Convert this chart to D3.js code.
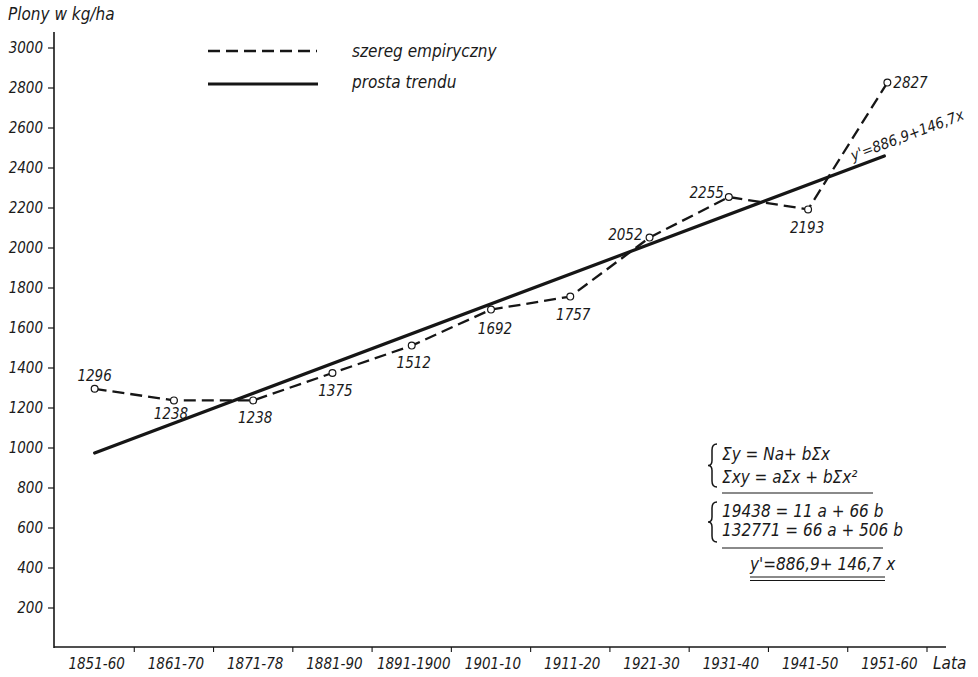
<!DOCTYPE html>
<html>
<head>
<meta charset="utf-8">
<script src="https://cdn.jsdelivr.net/npm/d3@7"></script>
<style>
  html, body { margin: 0; padding: 0; background: #fff; }
  svg { display: block; }
  text { font-family: "Liberation Sans Narrow", "DejaVu Sans Condensed", sans-serif; font-style: italic; fill: #1a1a1a; }
</style>
</head>
<body>
<div id="chart"></div>
<script>
(function () {
  // data
  const periods = ["1851-60", "1861-70", "1871-78", "1881-90", "1891-1900", "1901-10",
                   "1911-20", "1921-30", "1931-40", "1941-50", "1951-60"];
  const yields = [1296, 1238, 1238, 1375, 1512, 1692, 1757, 2052, 2255, 2193, 2827];
  const trendEnds = [975, 2460]; // straight trend line, first and last period
  const yTicks = [200, 400, 600, 800, 1000, 1200, 1400, 1600, 1800, 2000, 2200, 2400, 2600, 2800, 3000];
  // where each value label sits relative to its point: [dx, dy, anchor]
  const labelPos = [
    [0, -8, "middle"], [-3, 19, "middle"], [2, 23, "middle"], [3, 23, "middle"],
    [2, 22, "middle"], [4, 24, "middle"], [3, 23, "middle"], [-7, 2, "end"],
    [-5, 1, "end"], [-1, 24, "middle"], [6, 5, "start"]
  ];
  const formulaLines = [
    "Σy = Na+ bΣx",
    "Σxy = aΣx + bΣx²",
    "19438 = 11 a + 66 b",
    "132771 = 66 a + 506 b",
    "y'=886,9+ 146,7 x"
  ];

  const W = 978, H = 677;
  const svg = d3.select("#chart").append("svg")
    .attr("width", W).attr("height", H);

  const x = d3.scaleBand().domain(periods).range([55, 927]);
  const cx = (p) => x(p) + x.bandwidth() / 2;
  const y = d3.scaleLinear().domain([0, 3000]).range([648, 48]);

  const ink = "#161616";

  // y axis
  svg.append("line").attr("x1", 54).attr("x2", 54).attr("y1", 32).attr("y2", 648)
    .attr("stroke", ink).attr("stroke-width", 1.6);
  const yAxis = svg.append("g");
  yTicks.forEach((t) => {
    yAxis.append("line").attr("x1", 48).attr("x2", 54).attr("y1", y(t)).attr("y2", y(t))
      .attr("stroke", ink).attr("stroke-width", 1.2);
    yAxis.append("text").attr("x", 43).attr("y", y(t) + 5)
      .attr("text-anchor", "end").attr("font-size", 15).text(t);
  });

  // x axis
  svg.append("line").attr("x1", 54).attr("x2", 946).attr("y1", 647).attr("y2", 647)
    .attr("stroke", ink).attr("stroke-width", 1.6);
  const xAxis = svg.append("g");
  periods.forEach((p, i) => {
    const bx = x(p) + x.bandwidth();
    xAxis.append("line").attr("x1", bx).attr("x2", bx).attr("y1", 647).attr("y2", 652)
      .attr("stroke", ink).attr("stroke-width", 1.1);
    xAxis.append("text").attr("x", cx(p) + 2).attr("y", 669)
      .attr("text-anchor", "middle").attr("font-size", 15).text(p);
  });
  svg.append("text").attr("x", 933).attr("y", 669).attr("font-size", 17).text("Lata");

  // axis title
  svg.append("text").attr("x", 8).attr("y", 20).attr("font-size", 17).text("Plony w kg/ha");

  // trend line
  svg.append("line")
    .attr("x1", cx(periods[0])).attr("y1", y(trendEnds[0]))
    .attr("x2", cx(periods[periods.length - 1]) - 3).attr("y2", y(trendEnds[1]))
    .attr("stroke", ink).attr("stroke-width", 3.2).attr("stroke-linecap", "round");

  // empirical series
  const line = d3.line().x((d, i) => cx(periods[i])).y((d) => y(d));
  svg.append("path").datum(yields).attr("d", line)
    .attr("fill", "none").attr("stroke", ink).attr("stroke-width", 2.3)
    .attr("stroke-dasharray", "12,6");

  svg.selectAll("circle.pt").data(yields).enter().append("circle")
    .attr("class", "pt")
    .attr("cx", (d, i) => cx(periods[i])).attr("cy", (d) => y(d)).attr("r", 3.4)
    .attr("fill", "#fff").attr("stroke", ink).attr("stroke-width", 1.2);

  svg.selectAll("text.val").data(yields).enter().append("text")
    .attr("class", "val")
    .attr("x", (d, i) => cx(periods[i]) + labelPos[i][0])
    .attr("y", (d, i) => y(d) + labelPos[i][1])
    .attr("text-anchor", (d, i) => labelPos[i][2])
    .attr("font-size", 15).text((d) => d);

  // equation along the trend line
  const ang = Math.atan2(y(trendEnds[1]) - y(trendEnds[0]),
    cx(periods[10]) - cx(periods[0])) * 180 / Math.PI;
  svg.append("text").attr("transform", `translate(853,161) rotate(${ang})`)
    .attr("font-size", 15).text("y'=886,9+146,7x");

  // legend
  const legend = svg.append("g");
  legend.append("line").attr("x1", 208).attr("x2", 317).attr("y1", 51).attr("y2", 51)
    .attr("stroke", ink).attr("stroke-width", 2.3).attr("stroke-dasharray", "12,6");
  legend.append("line").attr("x1", 208).attr("x2", 318).attr("y1", 84).attr("y2", 84)
    .attr("stroke", ink).attr("stroke-width", 3.2);
  legend.append("text").attr("x", 352).attr("y", 57).attr("font-size", 17).text("szereg empiryczny");
  legend.append("text").attr("x", 352).attr("y", 88).attr("font-size", 17).text("prosta trendu");

  // normal equations block
  const eq = svg.append("g");
  const eqY = [460, 483, 517, 536, 570];
  const eqX = [722, 722, 722, 722, 750];
  formulaLines.forEach((s, i) => {
    eq.append("text").attr("x", eqX[i]).attr("y", eqY[i]).attr("font-size", 17).text(s);
  });

  function brace(bx, y0, y1) {
    const ym = (y0 + y1) / 2;
    const p = d3.path();
    p.moveTo(bx + 8, y0);
    p.quadraticCurveTo(bx + 3, y0, bx + 3, y0 + 6);
    p.lineTo(bx + 3, ym - 5);
    p.quadraticCurveTo(bx + 3, ym, bx - 1, ym);
    p.quadraticCurveTo(bx + 3, ym, bx + 3, ym + 5);
    p.lineTo(bx + 3, y1 - 6);
    p.quadraticCurveTo(bx + 3, y1, bx + 8, y1);
    eq.append("path").attr("d", p.toString())
      .attr("fill", "none").attr("stroke", ink).attr("stroke-width", 1.5);
  }
  brace(709, 444, 487);
  brace(709, 502, 542);

  [[722, 873, 493], [722, 883, 548], [750, 885, 577], [750, 885, 580.5]].forEach((u) => {
    eq.append("line").attr("x1", u[0]).attr("x2", u[1]).attr("y1", u[2]).attr("y2", u[2])
      .attr("stroke", ink).attr("stroke-width", 1.2);
  });
})();
</script>
</body>
</html>
